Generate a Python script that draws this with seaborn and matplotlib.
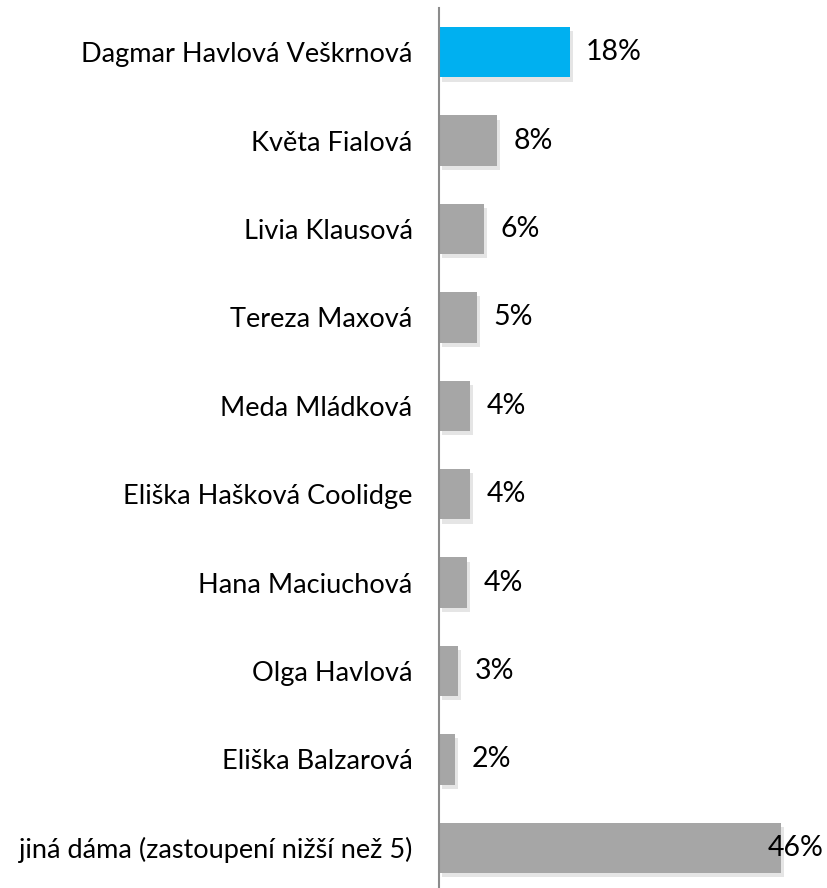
import matplotlib
matplotlib.use("Agg")
import matplotlib.pyplot as plt
import matplotlib.patheffects as pe
import pandas as pd
import seaborn as sns

names = [
    "Dagmar Havlová Veškrnová",
    "Květa Fialová",
    "Livia Klausová",
    "Tereza Maxová",
    "Meda Mládková",
    "Eliška Hašková Coolidge",
    "Hana Maciuchová",
    "Olga Havlová",
    "Eliška Balzarová",
    "jiná dáma (zastoupení nižší než 5)",
]
values = [17.6, 7.8, 6.1, 5.1, 4.2, 4.2, 3.8, 2.6, 2.2, 46.0]
highlight = ["yes", "no", "no", "no", "no", "no", "no", "no", "no", "no"]

df = pd.DataFrame({"name": names, "value": values, "hl": highlight})

sns.set_theme(style="white")
plt.rcParams["font.family"] = ["Lato", "DejaVu Sans"]

fig = plt.figure(figsize=(8.27, 8.88), dpi=100)
# axes box in pixels: left 439, top 8, bottom ~892, right 827
W, H = 827, 888
ax = fig.add_axes([439 / W, (H - 892) / H, (827 - 439) / W, (892 - 8) / H])

sns.barplot(
    data=df,
    x="value",
    y="name",
    hue="hl",
    palette={"yes": "#00B0F0", "no": "#A6A6A6"},
    saturation=1,
    width=0.57,
    linewidth=0,
    legend=False,
    ax=ax,
)
for p in ax.patches:
    p.set_linewidth(0)
    p.set_path_effects(
        [pe.SimplePatchShadow(offset=(2, -3), shadow_rgbFace="#BFBFBF", alpha=0.4),
         pe.Normal()]
    )

xmax = (827 - 439) / 7.43
ax.set_xlim(0, xmax)
for i, v in enumerate(values):
    label = f"{v:.0f}%"
    if v + 9 > xmax:
        ax.text(xmax - 0.5, i, label, ha="right", va="center", fontsize=20.5,
                color="black", zorder=5)
    else:
        ax.text(v + 2.2, i, label, ha="left", va="center", fontsize=20.5,
                color="black")

ax.set_xlabel("")
ax.set_ylabel("")
ax.set_xticks([])
ax.tick_params(axis="y", length=0, pad=19, labelsize=19.5)
for lbl in ax.get_yticklabels():
    lbl.set_color("black")
for s in ["top", "right", "bottom"]:
    ax.spines[s].set_visible(False)
ax.spines["left"].set_color("#8C8C8C")
ax.spines["left"].set_linewidth(1.5)
ax.spines["left"].set_zorder(6)

fig.savefig("out.png", dpi=100)
